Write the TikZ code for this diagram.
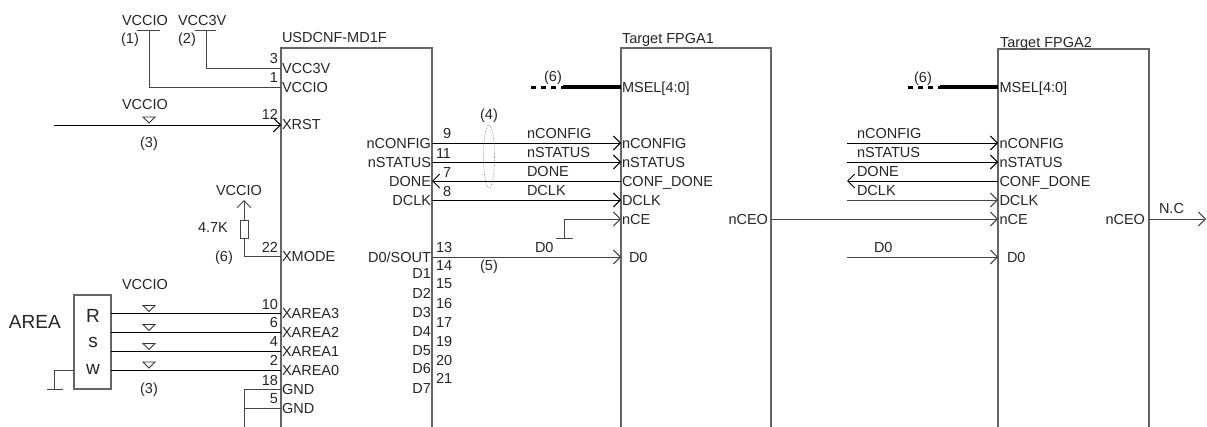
\documentclass[tikz,border=0pt]{standalone}
\usepackage{fontspec}
\setmainfont{Liberation Sans}
\usetikzlibrary{arrows.meta,calc,shapes.geometric}
\definecolor{boxgray}{HTML}{666666}
\definecolor{wiregray}{HTML}{444444}
\tikzset{
  txt/.style={inner sep=0pt,outer sep=0pt,font=\fontsize{14.5}{14.5}\selectfont,text=black!85},
  lw/.style={txt,anchor=base west},
  le/.style={txt,anchor=base east},
  lc/.style={txt,anchor=base},
  big/.style={font=\fontsize{19}{19}\selectfont},
  chip/.style={draw=boxgray,line width=1.2pt,inner sep=0pt,outer sep=0pt,minimum width=#1,minimum height=400pt,anchor=north west},
  wire/.style={draw=wiregray,line width=1pt},
  sig/.style={draw=black,line width=0.9pt},
  barb/.style={-{Straight Barb[length=7pt,width=14pt,line width=0.9pt]}},
  bus/.style={draw=black,line width=3.2pt},
  busd/.style={draw=black,line width=3pt,dash pattern=on 5pt off 5pt},
  tri/.style={draw=black!80,line width=0.9pt,fill=white},
}
\newcommand{\invtri}[1]{\draw[tri] ($(#1)+(-6,-8)$) -- ($(#1)+(6,-8)$) -- ($(#1)+(0,-2)$) -- cycle;}
\begin{document}
\begin{tikzpicture}[x=1pt,y=-1pt]
\useasboundingbox (0,0) rectangle (1207,426);
\fill[white] (0,0) rectangle (1207,426);
\clip (0,0) rectangle (1207,426);
% row coordinates
\coordinate (rv3) at (0,68);
\coordinate (rvi) at (0,87);
\coordinate (rxr) at (0,125);
\coordinate (rxm) at (0,256);
\coordinate (ra3) at (0,313.5);
\coordinate (ra2) at (0,332.5);
\coordinate (ra1) at (0,351.5);
\coordinate (ra0) at (0,370);
\coordinate (rg1) at (0,389);
\coordinate (rg2) at (0,408);
\coordinate (rcf) at (0,143);
\coordinate (rst) at (0,162);
\coordinate (rdn) at (0,181);
\coordinate (rck) at (0,200);
\coordinate (rce) at (0,219);
\coordinate (rd0) at (0,257);
% chips
\node[chip=151pt] (u1) at (281,48) {};
\node[chip=150pt] (f1) at (621,48) {};
\node[chip=151pt] (f2) at (998,49) {};
\node[draw=boxgray,line width=1.2pt,inner sep=0pt,outer sep=0pt,minimum width=37pt,minimum height=94pt,anchor=north west] (rsw) at (74,295) {};
% titles
\node[lw] (tu) at (282,42) {USDCNF-MD1F};
\node[lw] (tf1) at (622,43) {Target FPGA1};
\node[lw] (tf2) at (1000,47) {Target FPGA2};
% power 
\coordinate (p1l) at (137,30); \coordinate (p1r) at (160,30); \coordinate (p1) at (149,30);
\coordinate (p2l) at (195,30); \coordinate (p2r) at (216,30); \coordinate (p2) at (206,30);
\draw[wire] (p1l) -- (p1r);
\draw[wire] (p2l) -- (p2r);
\draw[wire] (p1) |- (u1.west |- rvi);
\draw[wire] (p2) |- (u1.west |- rv3);
\node[lw] (tv1) at (122,25) {VCCIO};
\node[lw] (tv2) at (178,25) {VCC3V};
\node[lc] (n1) at (130,43) {(1)};
\node[lc] (n2) at (187,43) {(2)};
% XRST
\coordinate (xrs) at (54,125);
\draw[sig,barb] (xrs) -- (u1.west |- rxr);
\coordinate (t0) at (149,125); \invtri{t0}
\node[lc] (tv3) at (145,109) {VCCIO};
\node[lc] (n3) at (149,147) {(3)};
% XMODE
\coordinate (vt) at (244,200);
\node[draw=wiregray,line width=1pt,inner sep=0pt,minimum width=8pt,minimum height=18pt] (res) at (244,229) {};
\draw[wire,barb] (res.north) -- (vt);
\draw[wire] (res.south) |- (u1.west |- rxm);
\node[lc] (tv4) at (239,195) {VCCIO};
\node[lw] (t47) at (198,232) {4.7K};
\node[lc] (n6a) at (224,261) {(6)};
% Rsw
\coordinate (tx) at (149,0);
\foreach \r/\t in {ra3/a,ra2/b,ra1/c,ra0/d}{
  \draw[sig] (rsw.east |- \r) -- (u1.west |- \r);
  \coordinate (t\t) at (tx |- \r);
  \invtri{t\t}
}
\node[lc] (tv5) at (145,289) {VCCIO};
\node[lc] (n3b) at (149,393) {(3)};
\node[lw,big] (tarea) at (9,328) {AREA};
\node[lc,big] (tR) at (93,322) {R};
\node[lc,big] (ts) at (93,347) {s};
\node[lc,big] (tw) at (93,374) {w};
\coordinate (gc) at (54,389); \coordinate (gl) at (47,389); \coordinate (gr) at (63,389);
\draw[wire] (rsw.west |- ra0) -| (gc);
\draw[wire] (gl) -- (gr);
% GND
\coordinate (gv) at (244,389); \coordinate (gb) at (244,430);
\draw[wire] (gb) |- (u1.west |- rg1);
\draw[wire] (gv |- rg2) -- (u1.west |- rg2);
% pin labels U1
\foreach \y/\s in {73/VCC3V,92/VCCIO,129/XRST,261/XMODE,318/XAREA3,337/XAREA2,356/XAREA1,375/XAREA0,394/GND,413/GND}{
  \node[lw] at (282,\y) {\s};
}
\foreach \y/\s in {63/3,82/1,119/12,252/22,309/10,327/6,346/4,365/2,385/18,403/5}{
  \node[le] at (278,\y) {\s};
}
\foreach \y/\s in {148/nCONFIG,167/nSTATUS,186/DONE,205/DCLK,262/D0{/}SOUT,278/D1,298/D2,317/D3,336/D4,355/D5,373/D6,393/D7}{
  \node[le] at (431,\y) {\s};
}
\foreach \y/\s in {138/9,177/7,196/8}{ \node[lw] at (443,\y) {\s}; }
\foreach \y/\s in {158/11,252/13,270/14,288/15,308/16,327/17,346/19,365/20,383/21}{ \node[lw] at (436,\y) {\s}; }
% U1 to F1
\draw[sig,barb] (u1.east |- rcf) -- (f1.west |- rcf);
\draw[sig,barb] (u1.east |- rst) -- (f1.west |- rst);
\draw[sig,barb] (f1.west |- rdn) -- (u1.east |- rdn);
\draw[sig,barb] (u1.east |- rck) -- (f1.west |- rck);
\draw[wire,barb] (u1.east |- rd0) -- (f1.west |- rd0);
\coordinate (ceg) at (564,238); \coordinate (cel) at (556,238); \coordinate (cer) at (573,238);
\draw[wire,barb] (ceg) |- (f1.west |- rce);
\draw[wire] (cel) -- (cer);
\node[draw=gray,densely dotted,line width=0.6pt,inner sep=0pt,minimum width=11pt,minimum height=63pt,shape=ellipse] (el) at (489,156.5) {};
\node[lc] (n4) at (489,119) {(4)};
\node[lc] (n5) at (489,270) {(5)};
\foreach \y/\s in {138/nCONFIG,157/nSTATUS,176/DONE,195/DCLK}{ \node[lw] at (527,\y) {\s}; }
\node[lw] (td0a) at (535,252) {D0};
% F1 pins
\foreach \x/\c in {622/a,999.5/b}{
\foreach \y/\s in {92/MSEL[4:0],148/nCONFIG,167/nSTATUS,186/CONF\_DONE,205/DCLK,224/nCE}{ \node[lw] at (\x,\y) {\s}; }
}
\node[lw] (td0p1) at (629,262) {D0};
\node[lw] (td0p2) at (1007,262) {D0};
\node[le] (tceo1) at (768,224) {nCEO};
\node[le] (tceo2) at (1145,224) {nCEO};
% MSEL
\coordinate (m1a) at (531,87); \coordinate (m1b) at (563,87);
\coordinate (m2a) at (908,87); \coordinate (m2b) at (940,87);
\draw[busd] (m1a) -- (m1b);
\draw[bus] (m1b) -- (f1.west |- m1b);
\draw[busd] (m2a) -- (m2b);
\draw[bus] (m2b) -- (f2.west |- m2b);
\node[lc] (n6b) at (553,81) {(6)};
\node[lc] (n6c) at (923,82) {(6)};
% F1 to F2
\draw[wire,barb] (f1.east |- rce) -- (f2.west |- rce);
\coordinate (sx) at (847,0);
\draw[sig,barb] (sx |- rcf) -- (f2.west |- rcf);
\draw[sig,barb] (sx |- rst) -- (f2.west |- rst);
\draw[sig,barb] (f2.west |- rdn) -- (sx |- rdn);
\draw[wire,barb] (sx |- rck) -- (f2.west |- rck);
\draw[wire,barb] (sx |- rd0) -- (f2.west |- rd0);
\foreach \y/\s in {138/nCONFIG,157/nSTATUS,176/DONE,195/DCLK}{ \node[lw] at (857,\y) {\s}; }
\node[lw] (td0b) at (874,252) {D0};
\coordinate (nc) at (1206,219);
\draw[wire,barb] (f2.east |- rce) -- (nc);
\node[lw] (tnc) at (1159,213) {N.C};
\end{tikzpicture}
\end{document}
